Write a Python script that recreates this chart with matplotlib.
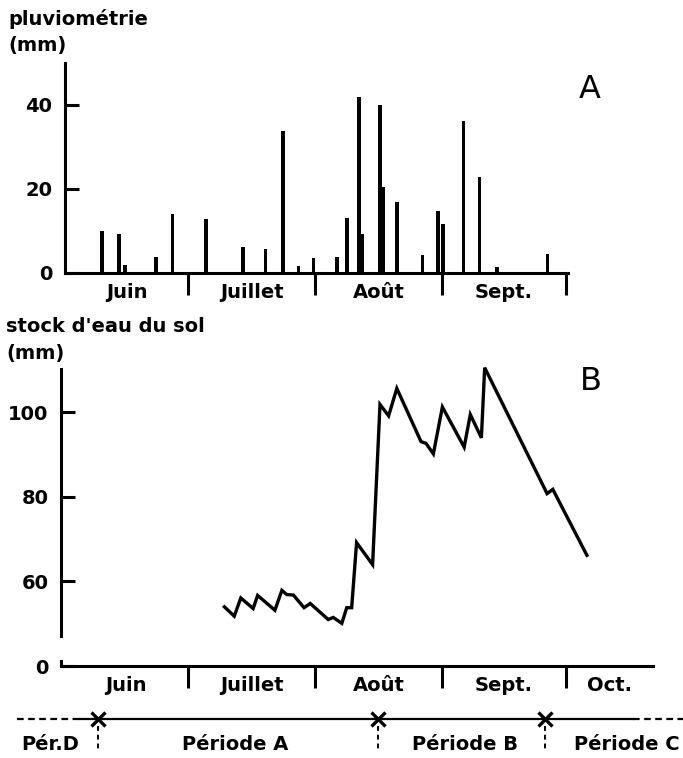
import matplotlib
matplotlib.use("Agg")
import matplotlib.pyplot as plt
import matplotlib.transforms as mtransforms

# ---------------- data ----------------
# days counted from 1 June
rain_day = [9.1, 13.2, 14.6, 22.2, 26.2, 34.4, 43.4, 48.9, 53.1, 56.9, 60.6,
            66.3, 68.7, 71.6, 72.4, 76.7, 77.6, 80.9, 87.1, 90.9, 92.1, 97.1,
            101.0, 105.3, 117.6]
rain_mm = [10.0, 9.3, 1.9, 3.9, 14.0, 12.8, 6.3, 5.6, 33.8, 1.7, 3.5,
           3.9, 13.0, 41.8, 9.2, 40.0, 20.5, 16.8, 4.3, 14.8, 11.7, 36.1,
           22.9, 1.5, 4.5]

stock_day = [38.9, 41.3, 42.9, 45.9, 47.0, 51.2, 52.9, 54.1, 55.7, 58.3, 59.8,
             64.2, 65.4, 67.5, 68.7, 69.9, 71.1, 75.0, 76.8, 78.9, 80.9, 86.8,
             88.0, 89.8, 92.0, 97.3, 98.8, 101.5, 102.3, 117.5, 118.9, 127.2]
stock_mm = [54.0, 51.8, 56.1, 53.6, 56.7, 53.2, 57.9, 56.9, 56.8, 53.8, 54.8,
            51.0, 51.5, 50.1, 53.8, 53.8, 69.2, 64.0, 101.9, 99.2, 105.7, 93.1,
            92.7, 90.2, 101.3, 91.8, 99.5, 94.0, 110.6, 80.8, 81.8, 66.2]

month_bounds = [0, 30, 61, 92, 122]
month_labels_top = ["Juin", "Juillet", "Août", "Sept."]
month_labels_bot = ["Juin", "Juillet", "Août", "Sept.", "Oct."]

rain_yticks = [0, 20, 40]
stock_yticks = [40, 60, 80, 100]
stock_yticklabels = ["0", "60", "80", "100"]

period_bounds = [8.0, 76.4, 117.0]
period_names = ["Pér.D", "Période A", "Période B", "Période C"]

# ---------------- style ----------------
plt.rcParams["font.family"] = ["DejaVu Sans"]
plt.rcParams["font.weight"] = "bold"
FS = 14
LW = 2.2

W, H = 683, 758
fig = plt.figure(figsize=(W / 100, H / 100), dpi=100)


def fx(px):
    return px / W


def fy(py):
    return 1 - py / H


def style_axes(ax, xmin, xmax, labels):
    for s in ["top", "right"]:
        ax.spines[s].set_visible(False)
    for s in ["left", "bottom"]:
        ax.spines[s].set_linewidth(LW)
    ax.set_xticks(month_bounds[1:])
    ax.set_xticklabels([])
    edges = month_bounds + [xmax]
    centers = []
    for i in range(len(labels)):
        lo = max(edges[i], xmin)
        hi = min(edges[i + 1], xmax)
        centers.append((lo + hi) / 2)
    ax.set_xticks(centers, minor=True)
    ax.set_xticklabels(labels, minor=True, fontsize=FS, fontweight="bold")
    ax.tick_params(axis="x", which="major", direction="out", length=16,
                   width=LW)
    ax.tick_params(axis="x", which="minor", length=0, pad=7)
    ax.tick_params(axis="y", which="major", direction="in", length=10,
                   width=LW, labelsize=FS, pad=9)


# ---------------- panel A ----------------
axA = fig.add_axes([fx(65), fy(273), fx(503), 210 / H])
axA.bar(rain_day, rain_mm, width=0.9, color="black")
axA.set_xlim(0, 122.6)
axA.set_ylim(0, 50)
style_axes(axA, 0, 122.6, month_labels_top)
axA.set_yticks(rain_yticks)
axA.set_yticklabels([str(v) for v in rain_yticks])

fig.text(fx(590), fy(90), "A", fontsize=23, fontweight="normal",
         ha="center", va="center")
fig.text(fx(8), fy(19), "pluviométrie", fontsize=FS, fontweight="bold",
         ha="left", va="center")
fig.text(fx(8), fy(46), "(mm)", fontsize=FS, fontweight="bold",
         ha="left", va="center")

# ---------------- panel B ----------------
axB = fig.add_axes([fx(61), fy(666), fx(592), 300 / H])
axB.plot(stock_day, stock_mm, color="black", lw=2.4, solid_joinstyle="miter")
axB.set_xlim(-0.9, 143.3)
axB.set_ylim(40, 111)
style_axes(axB, -0.9, 143.3, month_labels_bot)
axB.spines["left"].set_bounds(47.2, 110.2)
axB.set_yticks(stock_yticks)
axB.set_yticklabels(stock_yticklabels)
# small stub of the broken axis
axB.plot([-0.9, -0.9], [40, 41.2], color="black", lw=LW, clip_on=False)

fig.text(fx(591), fy(381), "B", fontsize=23, fontweight="normal",
         ha="center", va="center")
fig.text(fx(6), fy(327), "stock d'eau du sol", fontsize=FS, fontweight="bold",
         ha="left", va="center")
fig.text(fx(6), fy(353), "(mm)", fontsize=FS, fontweight="bold",
         ha="left", va="center")

# ---------------- periods ----------------
tr = mtransforms.blended_transform_factory(axB.transData, fig.transFigure)
yline = fy(719)
x_left = -11.6
x_right = 150.6
axB.plot([x_left, 3.7], [yline, yline], transform=tr, color="black", lw=1.6,
         ls=(0, (3, 2)), clip_on=False)
axB.plot([3.7, 138.4], [yline, yline], transform=tr, color="black", lw=1.6,
         clip_on=False)
axB.plot([138.4, x_right], [yline, yline], transform=tr, color="black",
         lw=1.6, ls=(0, (3, 2)), clip_on=False)
axB.plot(period_bounds, [yline] * len(period_bounds), transform=tr, ls="none",
         marker="x", ms=10, mew=2.4, color="black", clip_on=False)
for d in period_bounds:
    axB.plot([d, d], [fy(726), fy(751)], transform=tr, color="black", lw=1.4,
             ls=(0, (2.5, 2)), clip_on=False)

label_x = [-3.6, 41.5, 97.5, 137.0]
for name, x in zip(period_names, label_x):
    axB.text(x, fy(745), name, transform=tr, fontsize=FS, fontweight="bold",
             ha="center", va="center", clip_on=False)

fig.savefig("out.png", dpi=100)
